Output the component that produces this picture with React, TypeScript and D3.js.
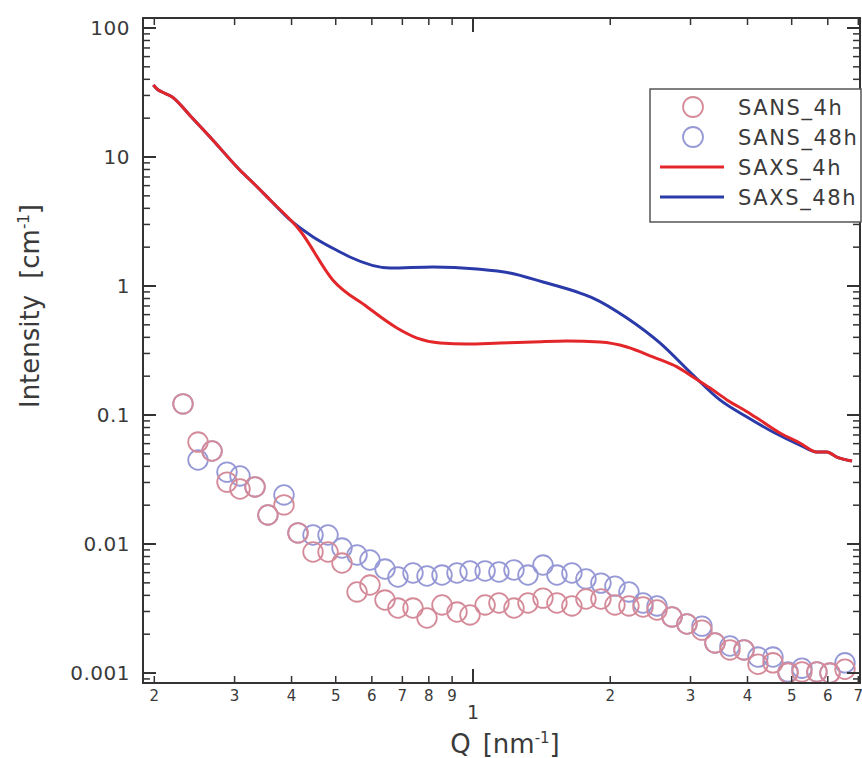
import React from "react";
import * as d3 from "d3";

// ---- data ----
const saxs4hQ = [0.199, 0.204, 0.208, 0.219, 0.24, 0.265, 0.308, 0.333, 0.359, 0.418, 0.493, 0.586, 0.681, 0.754, 0.847, 0.97, 1.146, 1.354, 1.607, 1.899, 2.176, 2.481, 2.802, 3.038, 3.31, 3.606, 3.99, 4.26, 4.713, 5.213, 5.68, 5.975, 6.28, 6.78];
const saxs4hI = [36.2, 33.1, 31.9, 29.2, 20.8, 14.3, 7.93, 6.07, 4.64, 2.67, 1.11, 0.688, 0.473, 0.395, 0.362, 0.355, 0.362, 0.368, 0.375, 0.368, 0.337, 0.282, 0.236, 0.197, 0.162, 0.131, 0.106, 0.0914, 0.0725, 0.0607, 0.0517, 0.0517, 0.0472, 0.044];

const saxs48hQ = [0.199, 0.204, 0.208, 0.219, 0.24, 0.265, 0.308, 0.333, 0.359, 0.397, 0.446, 0.511, 0.537, 0.658, 0.817, 1.02, 1.205, 1.424, 1.717, 1.833, 2.176, 2.57, 3.038, 3.48, 3.99, 4.55, 5.213, 5.68, 5.975, 6.28, 6.78];
const saxs48hI = [36.2, 33.1, 31.9, 29.2, 20.8, 14.3, 7.93, 6.07, 4.64, 3.25, 2.4, 1.835, 1.678, 1.379, 1.404, 1.354, 1.261, 1.074, 0.882, 0.807, 0.565, 0.362, 0.204, 0.131, 0.0965, 0.0738, 0.0585, 0.0517, 0.0517, 0.0472, 0.044];

const sansQ = [0.2312, 0.2494, 0.2677, 0.2887, 0.3083, 0.3326, 0.355, 0.385, 0.4132, 0.4458, 0.4809, 0.516, 0.5568, 0.5943, 0.6412, 0.6846, 0.7386, 0.7927, 0.8551, 0.9224, 0.985, 1.063, 1.14, 1.23, 1.32, 1.424, 1.528, 1.648, 1.769, 1.908, 2.048, 2.198, 2.36, 2.533, 2.732, 2.946, 3.178, 3.394, 3.661, 3.93, 4.217, 4.549, 4.908, 5.266, 5.68, 6.066, 6.544];
const sans4hI = [0.122, 0.0617, 0.0526, 0.0302, 0.0267, 0.0277, 0.0168, 0.0201, 0.0122, 0.00867, 0.00867, 0.00712, 0.00425, 0.00481, 0.00368, 0.00319, 0.00319, 0.00267, 0.00337, 0.00297, 0.00282, 0.00337, 0.00349, 0.00319, 0.00349, 0.00381, 0.00349, 0.00331, 0.00375, 0.00375, 0.00337, 0.00331, 0.00325, 0.00308, 0.00272, 0.0024, 0.00215, 0.00171, 0.00151, 0.00151, 0.00117, 0.0012, 0.001, 0.00102, 0.00102, 0.001, 0.00107];
const sans48hI = [0.122, 0.0448, 0.0526, 0.0361, 0.0337, 0.0277, 0.0168, 0.024, 0.0122, 0.01175, 0.01175, 0.00931, 0.00822, 0.00752, 0.0064, 0.00555, 0.00596, 0.00565, 0.00575, 0.00596, 0.00618, 0.00618, 0.00607, 0.00629, 0.00575, 0.00687, 0.00575, 0.00596, 0.00536, 0.00498, 0.00472, 0.00425, 0.00349, 0.00331, 0.00272, 0.0024, 0.00231, 0.00171, 0.00162, 0.00151, 0.00133, 0.00133, 0.00102, 0.00109, 0.00102, 0.001, 0.0012];

const xMajorTicks = [1];
const xMinorTicks = [0.2, 0.3, 0.4, 0.5, 0.6, 0.7, 0.8, 0.9, 2, 3, 4, 5, 6, 7];
const xMinorLabels = ["2", "3", "4", "5", "6", "7", "8", "9", "2", "3", "4", "5", "6", "7"];
const yMajorTicks = [0.001, 0.01, 0.1, 1, 10, 100];
const yMajorLabels = ["0.001", "0.01", "0.1", "1", "10", "100"];

const legendItems = [
  { label: "SANS_4h", kind: "circle", color: "#c45a6e" },
  { label: "SANS_48h", kind: "circle", color: "#6a6ec4" },
  { label: "SAXS_4h", kind: "line", color: "#e3262a" },
  { label: "SAXS_48h", kind: "line", color: "#2a3aa8" },
];

const W = 862;
const H = 758;
const left = 143, right = 860, top = 18, bottom = 683;
const FONT = "'DejaVu Sans', sans-serif";

export default function App() {
  const x = d3.scaleLog().domain([0.1889, 7.06]).range([left, right]);
  const y = d3.scaleLog().domain([0.000837, 119.5]).range([bottom, top]);

  const line = d3
    .line<[number, number]>()
    .x((d) => x(d[0]))
    .y((d) => y(d[1]))
    .curve(d3.curveMonotoneX);

  const red = line(saxs4hQ.map((q, i) => [q, saxs4hI[i]]) as [number, number][]) || "";
  const blue = line(saxs48hQ.map((q, i) => [q, saxs48hI[i]]) as [number, number][]) || "";

  const yMinor: number[] = [];
  for (let e = -4; e <= 2; e++) {
    for (let m = 2; m <= 9; m++) {
      const v = m * Math.pow(10, e);
      if (v > y.domain()[0] && v < y.domain()[1]) yMinor.push(v);
    }
  }

  const axisColor = "#333";
  const textColor = "#3a3a3a";

  return (
    <svg width={W} height={H} style={{ position: "absolute", left: 0, top: 0, background: "#fff" }} fontFamily={FONT}>
      {/* SANS markers */}
      <g fill="none" strokeWidth={1.8} opacity={0.7}>
        {sansQ.map((q, i) => (
          <circle key={"b" + i} cx={x(q)} cy={y(sans48hI[i])} r={9.8} stroke="#6a6ec4" />
        ))}
        {sansQ.map((q, i) => (
          <circle key={"r" + i} cx={x(q)} cy={y(sans4hI[i])} r={9.8} stroke="#c45a6e" />
        ))}
      </g>

      {/* SAXS lines */}
      <path d={blue} fill="none" stroke="#2a3aa8" strokeWidth={3} />
      <path d={red} fill="none" stroke="#e3262a" strokeWidth={3} />

      {/* frame */}
      <rect x={left} y={top} width={right - left} height={bottom - top} fill="none" stroke={axisColor} strokeWidth={2} />

      {/* x ticks bottom & top */}
      {xMajorTicks.map((t) => (
        <g key={"xM" + t}>
          <line x1={x(t)} x2={x(t)} y1={bottom} y2={bottom - 14} stroke={axisColor} strokeWidth={2} />
          <line x1={x(t)} x2={x(t)} y1={top} y2={top + 14} stroke={axisColor} strokeWidth={2} />
          <text x={x(t)} y={719} textAnchor="middle" fontSize={19} fill={textColor}>1</text>
        </g>
      ))}
      {xMinorTicks.map((t, i) => (
        <g key={"xm" + t}>
          <line x1={x(t)} x2={x(t)} y1={bottom} y2={bottom - 7} stroke={axisColor} strokeWidth={1.5} />
          <line x1={x(t)} x2={x(t)} y1={top} y2={top + 7} stroke={axisColor} strokeWidth={1.5} />
          <text x={x(t)} y={701} textAnchor="middle" fontSize={15} fill={textColor}>{xMinorLabels[i]}</text>
        </g>
      ))}

      {/* y ticks left & right */}
      {yMajorTicks.map((t, i) => (
        <g key={"yM" + t}>
          <line x1={left} x2={left + 13} y1={y(t)} y2={y(t)} stroke={axisColor} strokeWidth={2} />
          <line x1={right} x2={right - 13} y1={y(t)} y2={y(t)} stroke={axisColor} strokeWidth={2} />
          <text x={130} y={y(t)} dy="0.36em" textAnchor="end" fontSize={20} letterSpacing={0.5} fill={textColor}>{yMajorLabels[i]}</text>
        </g>
      ))}
      {yMinor.map((t) => (
        <g key={"ym" + t}>
          <line x1={left} x2={left + 7} y1={y(t)} y2={y(t)} stroke={axisColor} strokeWidth={1.5} />
          <line x1={right} x2={right - 7} y1={y(t)} y2={y(t)} stroke={axisColor} strokeWidth={1.5} />
        </g>
      ))}

      {/* axis titles */}
      <text x={505} y={753} textAnchor="middle" fontSize={26} fill={textColor}>
        Q<tspan dx={12}>[nm</tspan><tspan dy={-10} fontSize={15}>-1</tspan><tspan dy={10}>]</tspan>
      </text>
      <text transform="translate(39,306) rotate(-90)" textAnchor="middle" fontSize={26} fill={textColor}>
        Intensity<tspan dx={16}>[cm</tspan><tspan dy={-10} fontSize={15}>-1</tspan><tspan dy={10}>]</tspan>
      </text>

      {/* legend */}
      <rect x={650} y={89} width={211} height={133} fill="#fff" stroke="#555" strokeWidth={1.5} />
      {legendItems.map((it, i) => {
        const cy = 107 + i * 30;
        return (
          <g key={it.label}>
            {it.kind === "circle" ? (
              <circle cx={693} cy={cy} r={10} fill="none" stroke={it.color} strokeWidth={1.8} opacity={0.7} />
            ) : (
              <line x1={660} x2={724} y1={cy} y2={cy} stroke={it.color} strokeWidth={3} />
            )}
            <text x={738} y={cy} dy="0.36em" fontSize={21} letterSpacing={1.6} fill={textColor}>{it.label}</text>
          </g>
        );
      })}
    </svg>
  );
}
